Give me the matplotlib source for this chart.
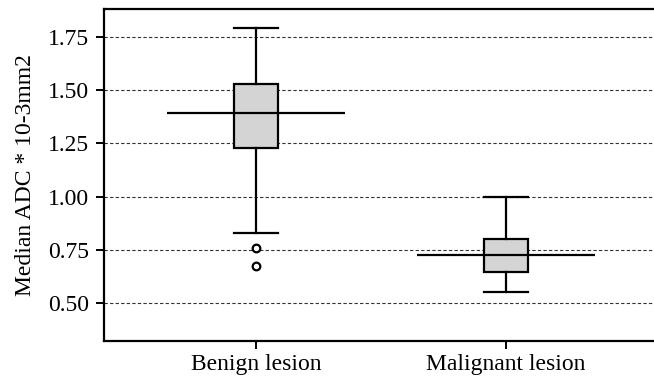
import matplotlib
matplotlib.use("Agg")
import matplotlib.pyplot as plt

# data
groups = ["Benign lesion", "Malignant lesion"]
whisker_low = [0.828, 0.552]
q1 = [1.230, 0.648]
median = [1.392, 0.728]
q3 = [1.528, 0.800]
whisker_high = [1.794, 1.000]
outliers = [[0.761, 0.676], []]

yticks = [0.50, 0.75, 1.00, 1.25, 1.50, 1.75]

plt.rcParams["font.family"] = ["Liberation Serif", "DejaVu Serif"]

fig = plt.figure(figsize=(6.54, 3.8), dpi=100)
ax = fig.add_axes([104 / 654, 39 / 380, 554 / 654, 332 / 380])

positions = [1, 2]
stats = []
for i, g in enumerate(groups):
    stats.append(dict(label=g, whislo=whisker_low[i], q1=q1[i], med=median[i],
                      q3=q3[i], whishi=whisker_high[i], fliers=outliers[i]))

ax.bxp(stats, positions=positions, widths=0.176, patch_artist=True,
       boxprops=dict(facecolor="#d4d4d4", edgecolor="black", linewidth=1.6),
       whiskerprops=dict(color="black", linewidth=1.6),
       capprops=dict(color="black", linewidth=1.6),
       medianprops=dict(linewidth=0),
       flierprops=dict(marker="o", markersize=5.5, markerfacecolor="white",
                       markeredgecolor="black", markeredgewidth=1.6),
       capwidths=0.176, zorder=3)

# long median bars
for p, m in zip(positions, median):
    ax.hlines(m, p - 0.355, p + 0.355, color="black", linewidth=1.6, zorder=4)

ax.set_xlim(0.392, 2.608)
ax.set_ylim(0.322, 1.881)
ax.set_yticks(yticks)
ax.set_yticklabels([f"{v:.2f}" for v in yticks])
ax.set_xticks(positions)
ax.set_xticklabels(groups)

ax.yaxis.grid(True, linestyle=(0, (3, 2)), color="#333333", linewidth=0.8)
ax.set_axisbelow(True)

for side in ["left", "top", "bottom"]:
    ax.spines[side].set_linewidth(1.6)
ax.spines["right"].set_visible(False)

ax.tick_params(axis="both", labelsize=17, width=1.4, length=5.5)
ax.tick_params(axis="y", pad=5)
ax.tick_params(axis="x", pad=4)
ax.set_ylabel("Median ADC * 10-3mm2", fontsize=17, labelpad=9)

fig.savefig("out.png", dpi=100)
